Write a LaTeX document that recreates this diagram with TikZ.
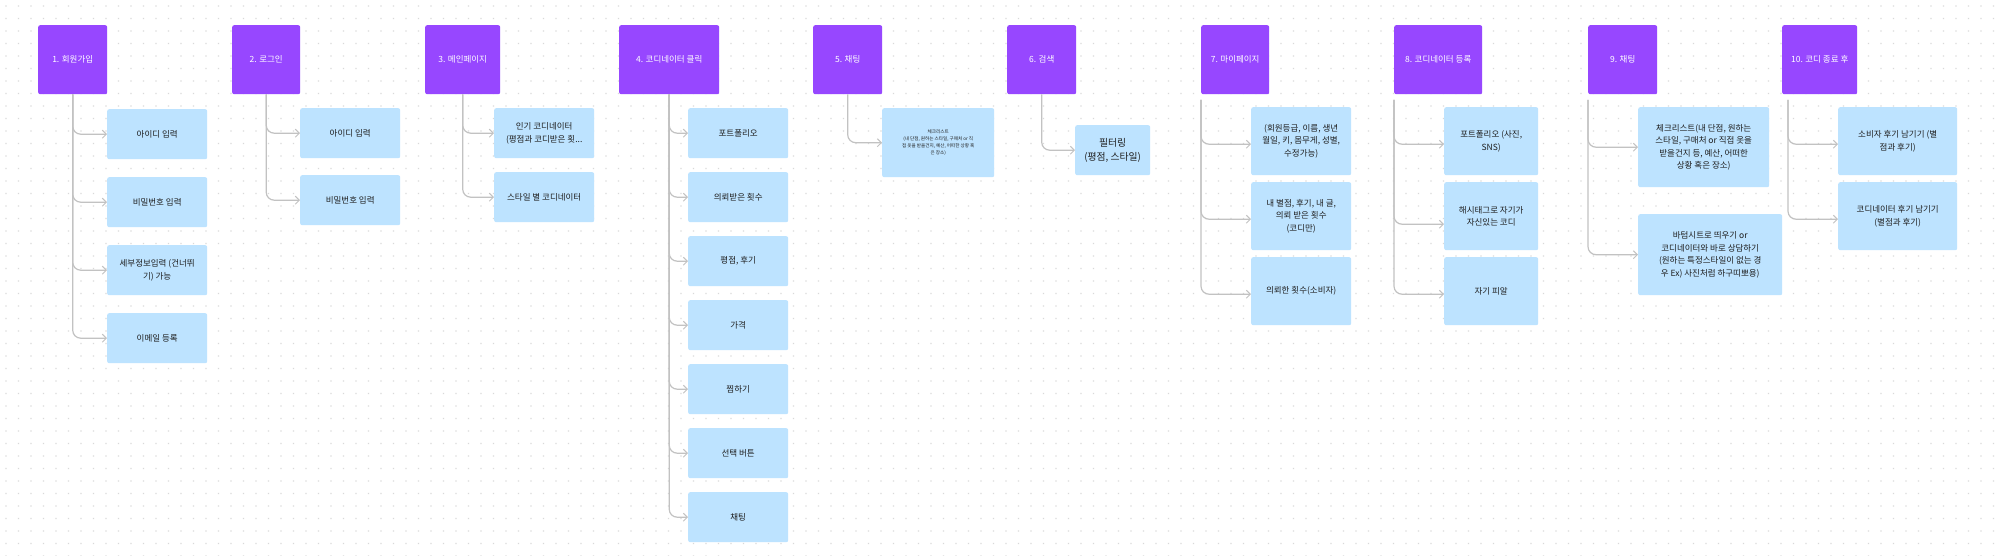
\documentclass[tikz,border=0pt]{standalone}
\usepackage{fontspec}
\setmainfont{Noto Sans CJK KR}
\usetikzlibrary{arrows.meta}
\definecolor{purp}{HTML}{9747FF}
\definecolor{lblue}{HTML}{BDE3FF}
\definecolor{txt}{HTML}{1E1E1E}
\definecolor{linec}{HTML}{C2C2C2}
\definecolor{dotc}{HTML}{D9D9D9}
\tikzset{
  pbox/.style={fill=purp, rounded corners=2pt, text=white, anchor=north west, font=\fontsize{8.5}{11}\selectfont, inner sep=1pt, align=center},
  cbox/.style={fill=lblue, rounded corners=2pt, text=txt, anchor=north west, font=\fontsize{8.5}{12.5}\selectfont, inner sep=1pt, align=center},
  conn/.style={draw=linec, line width=1.2pt, rounded corners=8pt, -{Straight Barb[length=4pt,width=8pt,line width=1pt]}},
}
\begin{document}
\begin{tikzpicture}[x=1pt,y=-1pt]
\useasboundingbox[fill=white] (0,0) rectangle (2000,556);
% dot grid
\foreach \j in {0,...,44} {
  \fill[dotc] foreach \i in {0,...,159} { (5.3+12.5*\i, 5.3+12.5*\j) rectangle ++(1.4,1.4) };
}

% purple headers
\node[pbox, minimum width=69pt, minimum height=69pt] (p1) at (38,25) {1. 회원가입};
\node[pbox, minimum width=68pt, minimum height=69pt] (p2) at (232,25) {2. 로그인};
\node[pbox, minimum width=75pt, minimum height=69pt] (p3) at (425,25) {3. 메인페이지};
\node[pbox, minimum width=100pt, minimum height=69pt] (p4) at (619,25) {4. 코디네이터 클릭};
\node[pbox, minimum width=69pt, minimum height=69pt] (p5) at (813,25) {5. 채팅};
\node[pbox, minimum width=69pt, minimum height=69pt] (p6) at (1007,25) {6. 검색};
\node[pbox, minimum width=68pt, minimum height=69pt] (p7) at (1201,25) {7. 마이페이지};
\node[pbox, minimum width=88pt, minimum height=69pt] (p8) at (1394,25) {8. 코디네이터 등록};
\node[pbox, minimum width=69pt, minimum height=69pt] (p9) at (1588,25) {9. 채팅};
\node[pbox, minimum width=75pt, minimum height=69pt] (p10) at (1782,25) {10. 코디 종료 후};

% 1
\node[cbox, minimum width=100pt, minimum height=50pt] (c11) at (107,109) {아이디 입력};
\node[cbox, minimum width=100pt, minimum height=50pt] (c12) at (107,177) {비밀번호 입력};
\node[cbox, minimum width=100pt, minimum height=50pt] (c13) at (107,245) {세부정보입력 (건너뛰\\기) 가능};
\node[cbox, minimum width=100pt, minimum height=50pt] (c14) at (107,313) {이메일 등록};
\foreach \c in {c11,c12,c13,c14} \draw[conn] (p1.south) |- (\c.west);

% 2
\node[cbox, minimum width=100pt, minimum height=50pt] (c21) at (300,108) {아이디 입력};
\node[cbox, minimum width=100pt, minimum height=50pt] (c22) at (300,175) {비밀번호 입력};
\foreach \c in {c21,c22} \draw[conn] (p2.south) |- (\c.west);

% 3
\node[cbox, minimum width=100pt, minimum height=50pt] (c31) at (494,108) {인기 코디네이터\\(평점과 코디받은 횟...};
\node[cbox, minimum width=100pt, minimum height=50pt] (c32) at (494,172) {스타일 별 코디네이터};
\foreach \c in {c31,c32} \draw[conn] (p3.south) |- (\c.west);

% 4
\node[cbox, minimum width=100pt, minimum height=50pt] (c41) at (688,108) {포트폴리오};
\node[cbox, minimum width=100pt, minimum height=50pt] (c42) at (688,172) {의뢰받은 횟수};
\node[cbox, minimum width=100pt, minimum height=50pt] (c43) at (688,236) {평점, 후기};
\node[cbox, minimum width=100pt, minimum height=50pt] (c44) at (688,300) {가격};
\node[cbox, minimum width=100pt, minimum height=50pt] (c45) at (688,364) {찜하기};
\node[cbox, minimum width=100pt, minimum height=50pt] (c46) at (688,428) {선택 버튼};
\node[cbox, minimum width=100pt, minimum height=50pt] (c47) at (688,492) {채팅};
\foreach \c in {c41,c42,c43,c44,c45,c46,c47} \draw[conn] (p4.south) |- (\c.west);

% 5
\node[cbox, minimum width=112pt, minimum height=69pt, font=\fontsize{4.6}{7}\selectfont] (c51) at (882,108) {체크리스트\\(내 단점, 원하는 스타일, 구매처 or 직\\접 옷을 받을건지, 예산, 어떠한 상황 혹\\은 장소)};
\draw[conn] (p5.south) |- (c51.west);

% 6
\node[cbox, minimum width=75pt, minimum height=50pt, font=\fontsize{9.8}{13.5}\selectfont] (c61) at (1075,125) {필터링\\(평점, 스타일)};
\draw[conn] (p6.south) |- (c61.west);

% 7
\coordinate (t7) at (1201,100);
\node[cbox, minimum width=100pt, minimum height=68pt] (c71) at (1251,107) {(회원등급, 이름, 생년\\월일, 키, 몸무게, 성별,\\수정가능)};
\node[cbox, minimum width=100pt, minimum height=68pt] (c72) at (1251,182) {내 별점, 후기, 내 글,\\의뢰 받은 횟수\\(코디만)};
\node[cbox, minimum width=100pt, minimum height=68pt] (c73) at (1251,257) {의뢰한 횟수(소비자)};
\draw[conn] (t7) |- ([yshift=-3pt]c71.west);
\draw[conn] (t7) |- ([yshift=-3pt]c72.west);
\draw[conn] (t7) |- ([yshift=-3pt]c73.west);

% 8
\coordinate (t8) at (1394,100);
\node[cbox, minimum width=94pt, minimum height=68pt] (c81) at (1444,107) {포트폴리오 (사진,\\SNS)};
\node[cbox, minimum width=94pt, minimum height=68pt] (c82) at (1444,182) {해시태그로 자기가\\자신있는 코디};
\node[cbox, minimum width=94pt, minimum height=68pt] (c83) at (1444,257) {자기 피알};
\draw[conn] (t8) |- ([yshift=-3pt]c81.west);
\draw[conn] (t8) |- ([yshift=-8pt]c82.west);
\draw[conn] (t8) |- ([yshift=-3pt]c83.west);

% 9
\coordinate (t9) at (1588,100);
\node[cbox, minimum width=131pt, minimum height=80pt] (c91) at (1638,107) {체크리스트(내 단점, 원하는\\스타일, 구매처 or 직접 옷을\\받을건지 등, 예산, 어떠한\\상황 혹은 장소)};
\node[cbox, minimum width=144pt, minimum height=81pt] (c92) at (1638,214) {바텀시트로 띄우기 or\\코디네이터와 바로 상담하기\\(원하는 특정스타일이 없는 경\\우 Ex) 사진처럼 하구띠뽀용)};
\draw[conn] (t9) |- (c91.west);
\draw[conn] (t9) |- (c92.west);

% 10
\coordinate (t10) at (1788,100);
\node[cbox, minimum width=119pt, minimum height=68pt] (c101) at (1838,107) {소비자 후기 남기기 (별\\점과 후기)};
\node[cbox, minimum width=119pt, minimum height=68pt] (c102) at (1838,182) {코디네이터 후기 남기기\\(별점과 후기)};
\draw[conn] (t10) |- ([yshift=-3pt]c101.west);
\draw[conn] (t10) |- ([yshift=-3pt]c102.west);
\end{tikzpicture}
\end{document}
